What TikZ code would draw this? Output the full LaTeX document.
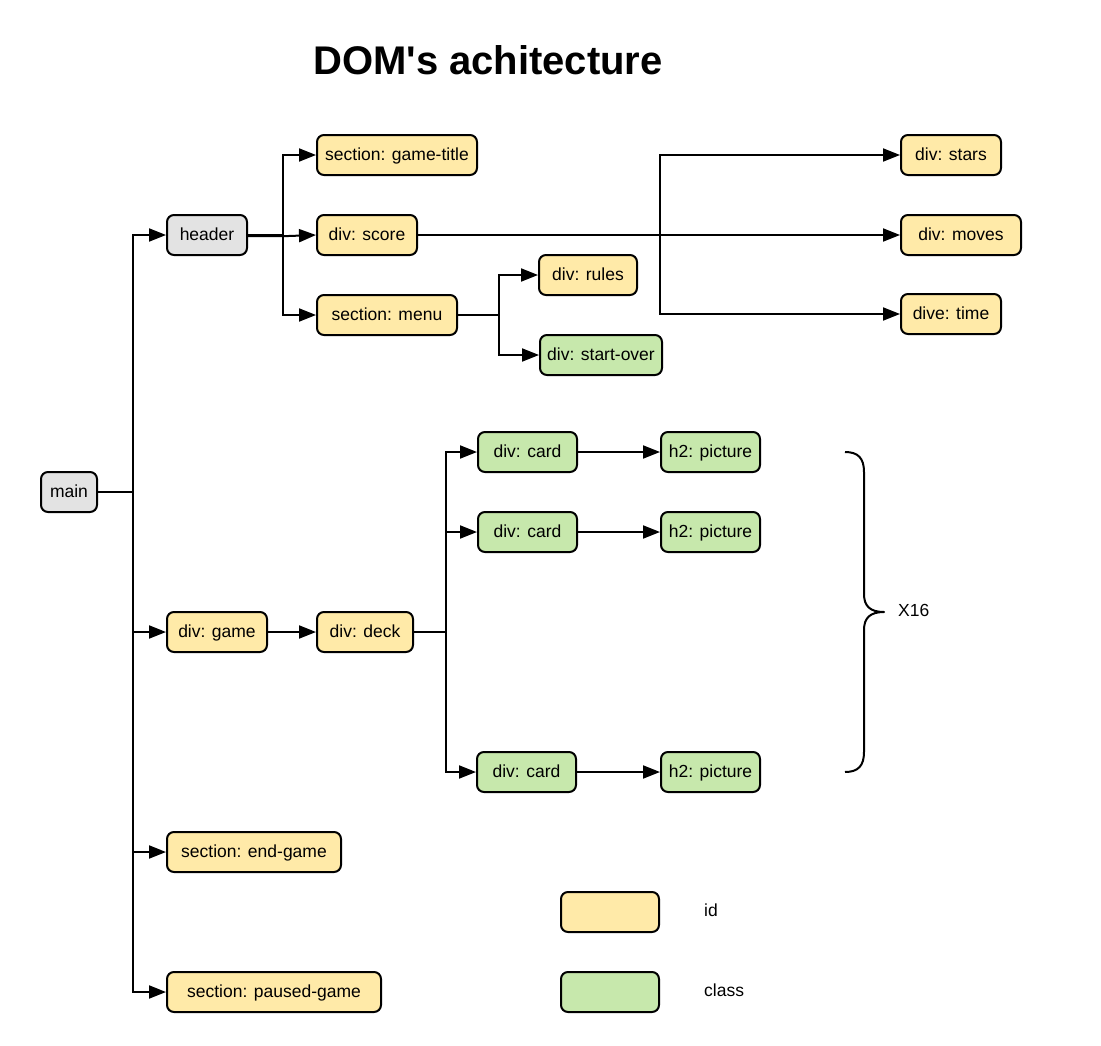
\documentclass[tikz,border=0pt]{standalone}
\usepackage{fontspec}
\setmainfont{Liberation Sans}
\newfontfamily\titlefont{Liberation Sans}[Mapping=]
\usetikzlibrary{arrows.meta}
\definecolor{idc}{RGB}{255,234,168}
\definecolor{clc}{RGB}{199,232,172}
\definecolor{grc}{RGB}{227,227,227}
\begin{document}
\begin{tikzpicture}[x=1pt,y=-1pt,
  box/.style={draw=black, line width=2pt, rounded corners=7pt, minimum height=40pt, inner sep=0pt, text depth=1pt, font=\fontsize{17.5}{20}\selectfont},
  idbox/.style={box, fill=idc},
  clbox/.style={box, fill=clc},
  grbox/.style={box, fill=grc},
  conn/.style={line width=2pt, -{Triangle[length=17pt,width=13pt]}},
  lbl/.style={font=\fontsize{17.5}{20}\selectfont, inner sep=0pt}]
\useasboundingbox[fill=white] (0,0) rectangle (1101,1045);

\node[font=\titlefont\fontsize{40}{48}\selectfont\bfseries] (title) at (488,60) {DOM's achitecture};

\node[grbox, minimum width=56pt] (main) at (69,492) {main};
\node[grbox, minimum width=80pt] (header) at (207,235) {header};
\node[idbox, minimum width=160pt] (gtitle) at (397,155) {section: game-title};
\node[idbox, minimum width=100pt] (score) at (367,235) {div: score};
\node[idbox, minimum width=140pt] (menu) at (387,315) {section: menu};
\node[idbox, minimum width=98pt] (rules) at (588,275) {div: rules};
\node[clbox, minimum width=122pt] (startover) at (601,355) {div: start-over};
\node[idbox, minimum width=100pt] (stars) at (951,155) {div: stars};
\node[idbox, minimum width=120pt] (moves) at (961,235) {div: moves};
\node[idbox, minimum width=100pt] (time) at (951,314) {dive: time};
\node[idbox, minimum width=100pt] (game) at (217,632) {div: game};
\node[idbox, minimum width=96pt] (deck) at (365,632) {div: deck};
\node[clbox, minimum width=99pt] (card1) at (527.5,452) {div: card};
\node[clbox, minimum width=99pt] (pic1) at (710.5,452) {h2: picture};
\node[clbox, minimum width=99pt] (card2) at (527.5,532) {div: card};
\node[clbox, minimum width=99pt] (pic2) at (710.5,532) {h2: picture};
\node[clbox, minimum width=99pt] (card3) at (526.5,772) {div: card};
\node[clbox, minimum width=99pt] (pic3) at (710.5,772) {h2: picture};
\node[idbox, minimum width=174pt] (endgame) at (254,852) {section: end-game};
\node[idbox, minimum width=214pt] (paused) at (274,992) {section: paused-game};

% legend
\node[idbox, minimum width=98pt] (legid) at (610,912) {};
\node[clbox, minimum width=98pt] (legcl) at (610,992) {};
\node[lbl, anchor=west] (legidt) at (704,910) {id};
\node[lbl, anchor=west] (legclt) at (704,990) {class};

% main tree
\draw[conn] (main.east) -- ++(35,0) |- (header);
\draw[conn] (main.east) -- ++(35,0) |- (game);
\draw[conn] (main.east) -- ++(35,0) |- (endgame);
\draw[conn] (main.east) -- ++(35,0) |- (paused);

% header
\draw[conn] (header.east) -- ++(35,0) |- (gtitle);
\draw[conn] ([yshift=-1.2pt]header.east) -- ++(35,0) -- (score.west|-score.center);
\draw[conn] (header.east) -- ++(35,0) |- (menu);

% score
\draw[conn] (score.east) -- ++(242,0) |- (stars);
\draw[conn] (score.east) -- (moves);
\draw[conn] (score.east) -- ++(242,0) |- (time);

% menu
\draw[conn] (menu.east) -- ++(41,0) |- (rules);
\draw[conn] (menu.east) -- ++(41,0) |- (startover);

% game
\draw[conn] (game) -- (deck);
\draw[conn] (deck.east) -- ++(32,0) |- (card1);
\draw[conn] (deck.east) -- ++(32,0) |- (card2);
\draw[conn] (deck.east) -- ++(32,0) |- (card3);
\draw[conn] (card1) -- (pic1);
\draw[conn] (card2) -- (pic2);
\draw[conn] (card3) -- (pic3);

% brace
\draw[line width=2pt, line join=round] (845,452) .. controls (858,452) and (864,458) .. (864,472)
  -- (864,594) .. controls (864,606) and (870,612) .. (884,612)
  .. controls (870,612) and (864,618) .. (864,630)
  -- (864,752) .. controls (864,766) and (858,772) .. (845,772);
\node[lbl, anchor=west] (x16) at (898,610) {X16};
\end{tikzpicture}
\end{document}
